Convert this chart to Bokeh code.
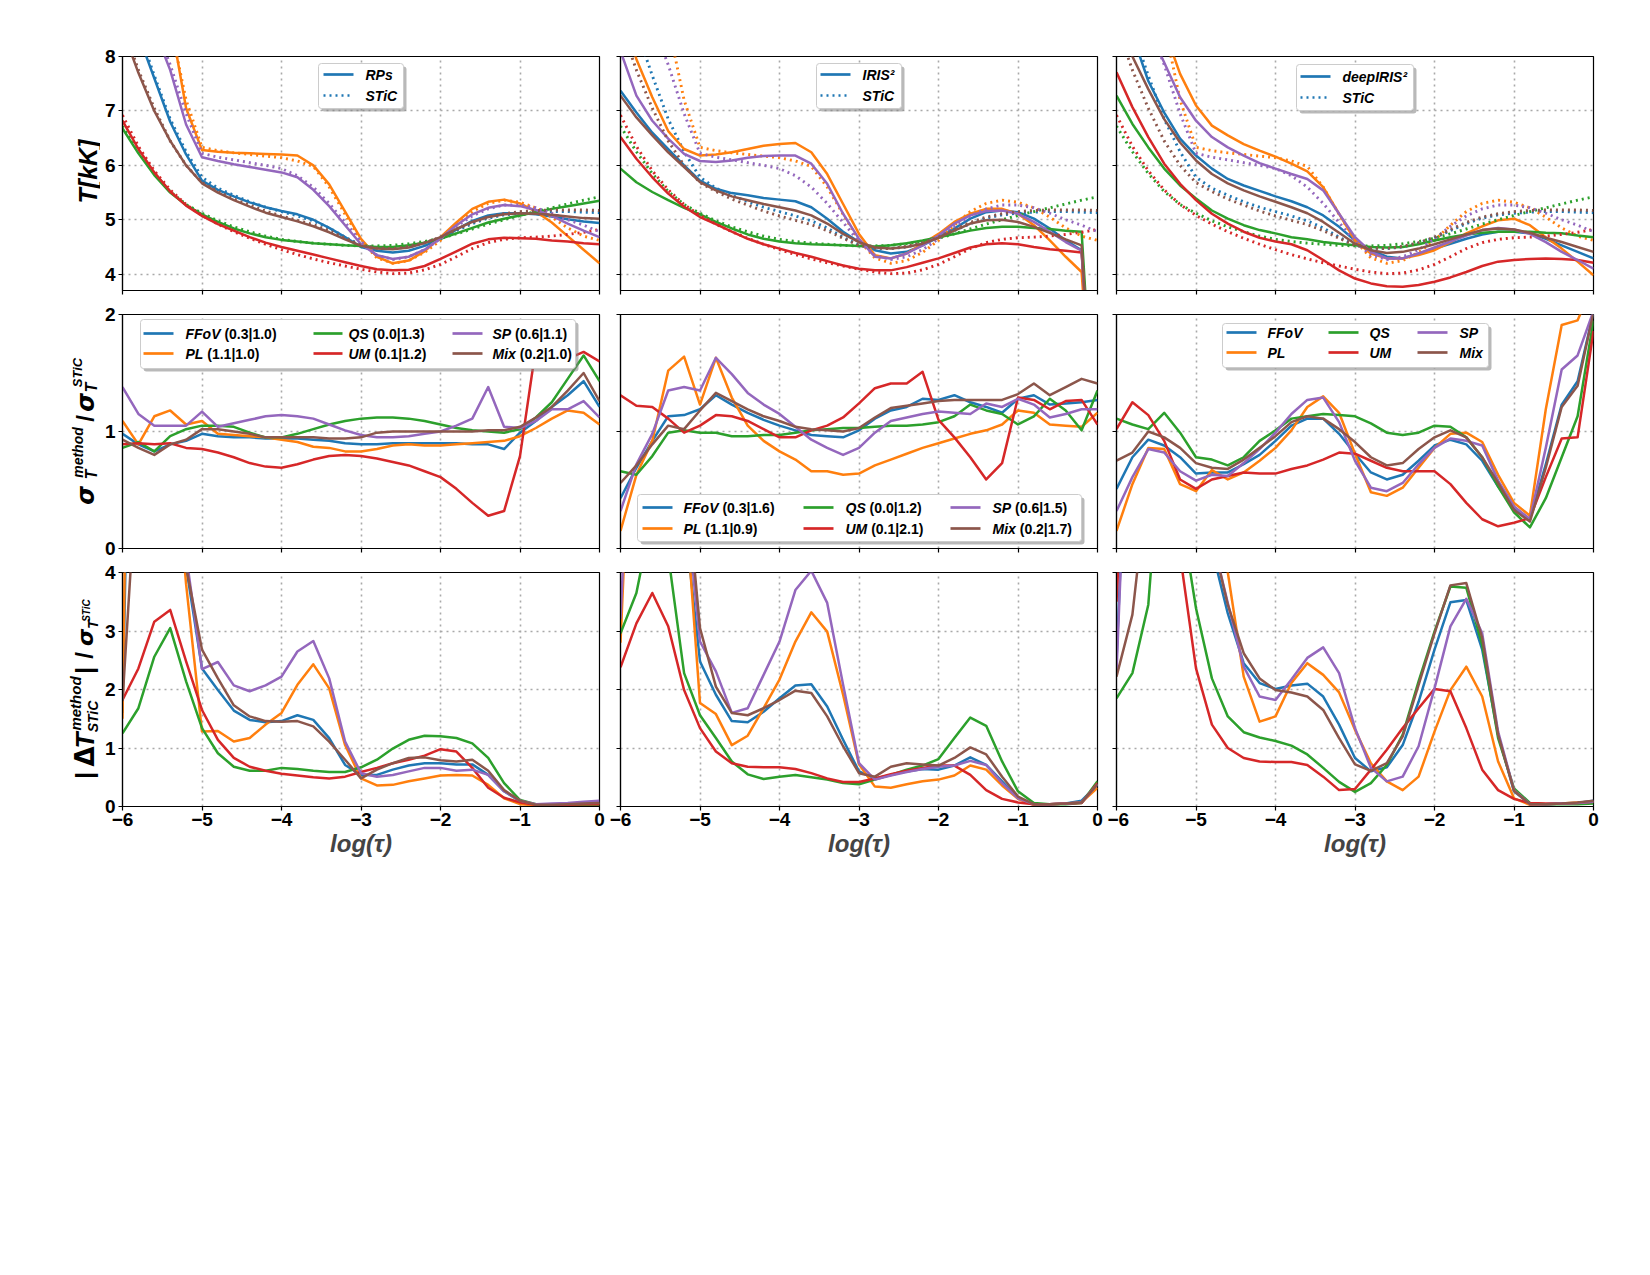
import math
from bokeh.plotting import figure
from bokeh.models import Range1d, FixedTicker, CustomJSTickFormatter, BoxAnnotation
from bokeh.layouts import row, column
from bokeh.embed import file_html
from bokeh.resources import INLINE
from bokeh.core.properties import value

# ---------------- data ----------------
log_tau = [-6.0, -5.8, -5.6, -5.4, -5.2, -5.0, -4.8, -4.6, -4.4, -4.2, -4.0, -3.8, -3.6, -3.4, -3.2,
           -3.0, -2.8, -2.6, -2.4, -2.2, -2.0, -1.8, -1.6, -1.4, -1.2, -1.0, -0.8, -0.6, -0.4, -0.2, 0.0]

methods = ["FFoV", "PL", "QS", "UM", "SP", "Mix"]

# Row 1: temperature [kK]; STiC reference (dotted)
stic_ffov = [9.4, 8.5, 7.65, 6.85, 6.25, 5.78, 5.58, 5.45, 5.33, 5.23, 5.15, 5.07, 4.98, 4.85, 4.68, 4.53, 4.48, 4.47, 4.50, 4.57, 4.67, 4.80, 4.93, 5.03, 5.09, 5.12, 5.14, 5.15, 5.15, 5.14, 5.13]
stic_pl = [11.5, 10.3, 9.2, 8.6, 7.2, 6.33, 6.27, 6.23, 6.2, 6.17, 6.14, 6.08, 5.98, 5.6, 5.1, 4.62, 4.3, 4.2, 4.25, 4.4, 4.62, 4.9, 5.15, 5.3, 5.36, 5.32, 5.22, 5.05, 4.85, 4.7, 4.62]
stic_qs = [6.72, 6.25, 5.85, 5.52, 5.28, 5.12, 4.98, 4.87, 4.78, 4.70, 4.64, 4.60, 4.57, 4.55, 4.53, 4.52, 4.52, 4.53, 4.56, 4.60, 4.66, 4.74, 4.83, 4.92, 5.00, 5.08, 5.15, 5.22, 5.29, 5.36, 5.42]
stic_um = [6.92, 6.35, 5.9, 5.55, 5.28, 5.08, 4.92, 4.78, 4.66, 4.55, 4.45, 4.36, 4.28, 4.21, 4.15, 4.09, 4.04, 4.01, 4.02, 4.08, 4.18, 4.32, 4.47, 4.58, 4.64, 4.67, 4.68, 4.70, 4.73, 4.77, 4.82]
stic_sp = [10.5, 9.5, 8.6, 7.85, 6.95, 6.22, 6.15, 6.1, 6.05, 6.0, 5.94, 5.81, 5.6, 5.3, 4.95, 4.6, 4.35, 4.27, 4.32, 4.45, 4.65, 4.88, 5.07, 5.2, 5.27, 5.27, 5.22, 5.12, 5.0, 4.9, 4.78]
stic_mix = [8.6, 7.75, 7.05, 6.45, 6.0, 5.68, 5.52, 5.38, 5.27, 5.16, 5.07, 4.99, 4.91, 4.80, 4.66, 4.53, 4.48, 4.47, 4.51, 4.58, 4.68, 4.82, 4.95, 5.05, 5.11, 5.15, 5.17, 5.18, 5.18, 5.18, 5.17]

rps_ffov = [9.3, 8.4, 7.6, 6.8, 6.2, 5.72, 5.55, 5.43, 5.32, 5.23, 5.16, 5.1, 5.0, 4.85, 4.68, 4.5, 4.43, 4.4, 4.43, 4.52, 4.65, 4.82, 4.98, 5.08, 5.12, 5.12, 5.1, 5.06, 5.01, 4.97, 4.94]
rps_pl = [11.0, 10.0, 9.0, 8.7, 7.05, 6.28, 6.25, 6.23, 6.22, 6.21, 6.2, 6.18, 6.0, 5.65, 5.15, 4.65, 4.32, 4.2, 4.25, 4.42, 4.68, 4.95, 5.2, 5.33, 5.37, 5.3, 5.15, 4.95, 4.7, 4.45, 4.2]
rps_qs = [6.68, 6.22, 5.82, 5.5, 5.27, 5.1, 4.96, 4.84, 4.75, 4.68, 4.63, 4.6, 4.57, 4.55, 4.53, 4.52, 4.5, 4.5, 4.53, 4.58, 4.65, 4.75, 4.85, 4.95, 5.02, 5.08, 5.14, 5.2, 5.25, 5.3, 5.35]
rps_um = [6.82, 6.3, 5.87, 5.52, 5.26, 5.07, 4.92, 4.8, 4.68, 4.58, 4.5, 4.43, 4.36, 4.29, 4.22, 4.15, 4.09, 4.07, 4.08, 4.15, 4.28, 4.42, 4.56, 4.64, 4.67, 4.66, 4.65, 4.62, 4.6, 4.57, 4.55]
rps_sp = [10.5, 9.4, 8.5, 7.75, 6.75, 6.15, 6.08, 6.02, 5.97, 5.92, 5.87, 5.78, 5.55, 5.25, 4.9, 4.55, 4.35, 4.28, 4.32, 4.45, 4.66, 4.9, 5.1, 5.22, 5.27, 5.25, 5.18, 5.07, 4.93, 4.8, 4.68]
rps_mix = [8.5, 7.7, 7.0, 6.45, 6.0, 5.67, 5.5, 5.36, 5.24, 5.13, 5.05, 4.97, 4.88, 4.77, 4.64, 4.52, 4.47, 4.46, 4.49, 4.57, 4.68, 4.83, 4.96, 5.05, 5.1, 5.12, 5.11, 5.09, 5.06, 5.03, 5.02]

iris_ffov = [7.37, 6.97, 6.6, 6.3, 6.0, 5.72, 5.57, 5.49, 5.45, 5.4, 5.37, 5.34, 5.23, 5.02, 4.78, 4.59, 4.44, 4.38, 4.41, 4.53, 4.68, 4.84, 5.02, 5.14, 5.17, 5.14, 5.02, 4.84, 4.62, 4.44, 0.0]
iris_pl = [8.9, 7.95, 7.25, 6.63, 6.3, 6.18, 6.2, 6.24, 6.3, 6.36, 6.39, 6.41, 6.24, 5.84, 5.29, 4.74, 4.35, 4.29, 4.38, 4.56, 4.74, 4.96, 5.11, 5.2, 5.2, 5.11, 4.9, 4.62, 4.32, 4.04, 0.0]
iris_qs = [5.94, 5.69, 5.51, 5.36, 5.22, 5.1, 4.96, 4.84, 4.73, 4.65, 4.6, 4.57, 4.55, 4.54, 4.53, 4.52, 4.51, 4.53, 4.57, 4.62, 4.68, 4.74, 4.8, 4.85, 4.87, 4.87, 4.85, 4.83, 4.8, 4.78, 0.0]
iris_um = [6.52, 6.12, 5.78, 5.48, 5.24, 5.05, 4.92, 4.78, 4.65, 4.55, 4.47, 4.39, 4.32, 4.24, 4.16, 4.1, 4.07, 4.07, 4.13, 4.21, 4.29, 4.39, 4.49, 4.55, 4.57, 4.55, 4.5, 4.46, 4.43, 4.4, 0.0]
iris_sp = [8.1, 7.28, 6.82, 6.49, 6.21, 6.08, 6.06, 6.09, 6.14, 6.17, 6.18, 6.18, 6.03, 5.66, 5.11, 4.65, 4.32, 4.29, 4.38, 4.53, 4.71, 4.93, 5.08, 5.16, 5.17, 5.11, 4.96, 4.78, 4.59, 4.43, 0.0]
iris_mix = [7.28, 6.88, 6.55, 6.24, 5.97, 5.69, 5.54, 5.43, 5.36, 5.29, 5.23, 5.17, 5.08, 4.93, 4.74, 4.59, 4.49, 4.47, 4.5, 4.56, 4.67, 4.8, 4.93, 4.99, 5.0, 4.96, 4.87, 4.76, 4.64, 4.53, 0.0]

deep_ffov = [9.2, 8.4, 7.55, 6.97, 6.49, 6.18, 5.94, 5.75, 5.63, 5.53, 5.43, 5.34, 5.23, 5.08, 4.87, 4.62, 4.44, 4.32, 4.29, 4.38, 4.47, 4.56, 4.65, 4.73, 4.78, 4.78, 4.75, 4.65, 4.53, 4.41, 4.29]
deep_pl = [11.0, 10.2, 9.3, 8.5, 7.68, 7.1, 6.73, 6.55, 6.39, 6.27, 6.16, 6.03, 5.89, 5.6, 5.11, 4.62, 4.38, 4.29, 4.29, 4.35, 4.44, 4.59, 4.75, 4.88, 4.99, 5.02, 4.9, 4.68, 4.47, 4.23, 3.98]
deep_qs = [7.28, 6.76, 6.33, 5.94, 5.63, 5.39, 5.17, 5.02, 4.9, 4.81, 4.75, 4.68, 4.64, 4.59, 4.56, 4.53, 4.5, 4.49, 4.5, 4.55, 4.62, 4.68, 4.73, 4.76, 4.78, 4.78, 4.78, 4.76, 4.75, 4.71, 4.68]
deep_um = [7.71, 7.07, 6.52, 6.03, 5.66, 5.36, 5.11, 4.93, 4.78, 4.67, 4.6, 4.55, 4.44, 4.26, 4.07, 3.92, 3.83, 3.78, 3.77, 3.8, 3.86, 3.94, 4.04, 4.15, 4.23, 4.26, 4.28, 4.29, 4.28, 4.26, 4.21]
deep_sp = [10.0, 9.2, 8.5, 7.89, 7.25, 6.82, 6.52, 6.33, 6.18, 6.04, 5.94, 5.84, 5.75, 5.54, 5.11, 4.68, 4.41, 4.29, 4.29, 4.38, 4.49, 4.6, 4.71, 4.81, 4.85, 4.82, 4.74, 4.59, 4.41, 4.26, 4.1]
deep_mix = [8.7, 8.0, 7.4, 6.85, 6.42, 6.09, 5.84, 5.67, 5.54, 5.43, 5.33, 5.23, 5.12, 4.96, 4.76, 4.56, 4.44, 4.39, 4.41, 4.47, 4.55, 4.64, 4.73, 4.81, 4.84, 4.82, 4.76, 4.67, 4.59, 4.5, 4.41]

# Row 2: sigma ratio
sr_rps_ffov = [0.98, 0.89, 0.83, 0.89, 0.92, 0.98, 0.96, 0.95, 0.95, 0.94, 0.94, 0.94, 0.93, 0.92, 0.9, 0.89, 0.89, 0.9, 0.9, 0.9, 0.9, 0.9, 0.89, 0.89, 0.85, 0.99, 1.09, 1.21, 1.31, 1.43, 1.21]
sr_rps_pl = [1.09, 0.89, 1.13, 1.18, 1.06, 1.09, 0.98, 0.97, 0.96, 0.95, 0.93, 0.91, 0.87, 0.86, 0.83, 0.83, 0.85, 0.88, 0.89, 0.88, 0.88, 0.89, 0.9, 0.91, 0.92, 0.96, 1.03, 1.11, 1.18, 1.16, 1.06]
sr_rps_qs = [0.86, 0.91, 0.83, 0.96, 1.02, 1.05, 1.05, 1.04, 0.99, 0.95, 0.95, 0.98, 1.02, 1.06, 1.09, 1.11, 1.12, 1.12, 1.11, 1.09, 1.06, 1.03, 1.01, 1.0, 0.99, 1.02, 1.12, 1.25, 1.45, 1.65, 1.43]
sr_rps_um = [0.89, 0.9, 0.89, 0.9, 0.86, 0.85, 0.82, 0.78, 0.73, 0.7, 0.69, 0.72, 0.76, 0.79, 0.8, 0.79, 0.77, 0.74, 0.71, 0.66, 0.61, 0.51, 0.39, 0.28, 0.32, 0.79, 1.72, 1.55, 1.62, 1.68, 1.6]
sr_rps_sp = [1.38, 1.15, 1.05, 1.05, 1.05, 1.17, 1.04, 1.07, 1.1, 1.13, 1.14, 1.13, 1.11, 1.06, 1.01, 0.97, 0.95, 0.95, 0.96, 0.98, 1.0, 1.05, 1.11, 1.38, 1.04, 1.03, 1.09, 1.19, 1.19, 1.26, 1.12]
sr_rps_mix = [0.93, 0.86, 0.8, 0.89, 0.93, 1.02, 1.02, 1.0, 0.98, 0.95, 0.95, 0.95, 0.95, 0.94, 0.94, 0.95, 0.99, 1.0, 1.0, 1.0, 1.0, 1.0, 1.0, 1.01, 1.01, 1.04, 1.12, 1.21, 1.35, 1.5, 1.26]

sr_iris_ffov = [0.43, 0.69, 0.92, 1.13, 1.14, 1.19, 1.31, 1.23, 1.16, 1.1, 1.05, 1.01, 0.97, 0.96, 0.95, 1.01, 1.11, 1.18, 1.21, 1.28, 1.27, 1.31, 1.25, 1.21, 1.16, 1.28, 1.31, 1.23, 1.24, 1.25, 1.27]
sr_iris_pl = [0.15, 0.63, 0.92, 1.52, 1.64, 1.23, 1.63, 1.29, 1.05, 0.92, 0.83, 0.76, 0.66, 0.66, 0.63, 0.64, 0.71, 0.76, 0.81, 0.86, 0.9, 0.94, 0.98, 1.01, 1.06, 1.18, 1.16, 1.06, 1.05, 1.04, 1.16]
sr_iris_qs = [0.66, 0.63, 0.79, 0.99, 1.01, 0.99, 0.99, 0.96, 0.96, 0.97, 0.97, 0.99, 1.01, 1.02, 1.03, 1.03, 1.04, 1.05, 1.05, 1.06, 1.08, 1.13, 1.23, 1.18, 1.15, 1.06, 1.13, 1.28, 1.18, 1.01, 1.35]
sr_iris_um = [1.31, 1.22, 1.21, 1.11, 0.99, 1.05, 1.14, 1.13, 1.09, 1.02, 0.95, 0.95, 1.01, 1.05, 1.12, 1.24, 1.37, 1.41, 1.41, 1.51, 1.1, 0.95, 0.78, 0.59, 0.73, 1.29, 1.27, 1.19, 1.26, 1.27, 1.06]
sr_iris_sp = [0.32, 0.72, 0.98, 1.35, 1.38, 1.35, 1.63, 1.49, 1.33, 1.23, 1.15, 1.04, 0.93, 0.86, 0.8, 0.86, 0.99, 1.09, 1.12, 1.15, 1.17, 1.16, 1.15, 1.24, 1.21, 1.28, 1.23, 1.12, 1.15, 1.19, 1.19]
sr_iris_mix = [0.56, 0.71, 0.89, 1.05, 1.02, 1.18, 1.33, 1.26, 1.19, 1.13, 1.09, 1.04, 1.02, 1.01, 1.0, 1.03, 1.12, 1.2, 1.22, 1.24, 1.26, 1.27, 1.27, 1.27, 1.27, 1.32, 1.41, 1.31, 1.38, 1.45, 1.41]

sr_deep_ffov = [0.51, 0.78, 0.93, 0.88, 0.78, 0.64, 0.65, 0.65, 0.72, 0.8, 0.92, 1.05, 1.11, 1.11, 0.98, 0.81, 0.65, 0.59, 0.63, 0.75, 0.88, 0.93, 0.89, 0.75, 0.53, 0.35, 0.25, 0.72, 1.23, 1.43, 2.02]
sr_deep_pl = [0.15, 0.55, 0.86, 0.85, 0.55, 0.49, 0.67, 0.59, 0.65, 0.75, 0.86, 1.01, 1.21, 1.3, 1.16, 0.81, 0.48, 0.45, 0.52, 0.69, 0.86, 0.98, 0.99, 0.91, 0.63, 0.39, 0.28, 1.19, 1.91, 1.95, 2.26]
sr_deep_qs = [1.11, 1.06, 1.02, 1.16, 0.99, 0.78, 0.76, 0.71, 0.78, 0.92, 1.01, 1.11, 1.13, 1.15, 1.14, 1.13, 1.07, 0.99, 0.97, 0.99, 1.05, 1.04, 0.95, 0.78, 0.53, 0.31, 0.18, 0.43, 0.78, 1.13, 1.95]
sr_deep_um = [1.02, 1.25, 1.14, 0.92, 0.59, 0.51, 0.59, 0.62, 0.65, 0.64, 0.64, 0.68, 0.71, 0.76, 0.82, 0.81, 0.75, 0.69, 0.66, 0.66, 0.66, 0.55, 0.39, 0.25, 0.19, 0.22, 0.26, 0.61, 0.94, 0.95, 1.86]
sr_deep_sp = [0.32, 0.61, 0.85, 0.82, 0.66, 0.58, 0.63, 0.62, 0.73, 0.85, 0.99, 1.15, 1.27, 1.29, 1.08, 0.75, 0.52, 0.49, 0.56, 0.72, 0.86, 0.94, 0.92, 0.88, 0.58, 0.36, 0.25, 0.86, 1.53, 1.65, 2.03]
sr_deep_mix = [0.75, 0.82, 1.0, 0.95, 0.86, 0.73, 0.69, 0.68, 0.76, 0.86, 0.96, 1.08, 1.13, 1.11, 1.02, 0.91, 0.78, 0.71, 0.73, 0.85, 0.95, 1.01, 0.95, 0.78, 0.56, 0.33, 0.23, 0.69, 1.21, 1.39, 2.02]

# Row 3: |dT| / sigma
dt_rps_ffov = [1.6, 15.0, 9.0, 7.0, 4.1, 2.36, 1.99, 1.64, 1.48, 1.44, 1.46, 1.56, 1.48, 1.17, 0.71, 0.54, 0.54, 0.63, 0.7, 0.74, 0.74, 0.72, 0.72, 0.54, 0.26, 0.09, 0.03, 0.03, 0.04, 0.05, 0.06]
dt_rps_pl = [1.5, 20.0, 9.0, 7.0, 3.8, 1.28, 1.29, 1.11, 1.17, 1.4, 1.6, 2.08, 2.43, 2.02, 1.05, 0.48, 0.36, 0.37, 0.43, 0.48, 0.53, 0.54, 0.53, 0.37, 0.14, 0.04, 0.02, 0.02, 0.03, 0.04, 0.05]
dt_rps_qs = [1.25, 1.68, 2.56, 3.05, 2.14, 1.34, 0.91, 0.68, 0.61, 0.61, 0.66, 0.64, 0.61, 0.59, 0.59, 0.67, 0.8, 0.99, 1.14, 1.21, 1.2, 1.17, 1.08, 0.83, 0.4, 0.11, 0.04, 0.03, 0.03, 0.03, 0.03]
dt_rps_um = [1.82, 2.36, 3.16, 3.36, 2.48, 1.65, 1.14, 0.83, 0.68, 0.61, 0.56, 0.53, 0.5, 0.48, 0.51, 0.59, 0.66, 0.74, 0.8, 0.87, 0.98, 0.94, 0.66, 0.32, 0.15, 0.07, 0.03, 0.03, 0.03, 0.04, 0.04]
dt_rps_sp = [4.5, 9.0, 9.0, 8.0, 4.3, 2.35, 2.47, 2.07, 1.97, 2.07, 2.22, 2.65, 2.83, 2.19, 1.11, 0.57, 0.51, 0.54, 0.6, 0.66, 0.66, 0.61, 0.63, 0.54, 0.26, 0.1, 0.04, 0.05, 0.06, 0.08, 0.1]
dt_rps_mix = [1.8, 6.2, 9.0, 7.5, 4.1, 2.68, 2.19, 1.73, 1.54, 1.46, 1.45, 1.46, 1.37, 1.11, 0.8, 0.48, 0.63, 0.74, 0.83, 0.84, 0.79, 0.77, 0.8, 0.61, 0.28, 0.1, 0.03, 0.03, 0.04, 0.05, 0.06]

dt_iris_ffov = [4.3, 9.0, 9.0, 8.0, 5.0, 2.48, 1.91, 1.46, 1.44, 1.62, 1.85, 2.07, 2.09, 1.71, 1.14, 0.6, 0.48, 0.54, 0.6, 0.64, 0.63, 0.7, 0.84, 0.71, 0.43, 0.14, 0.03, 0.04, 0.05, 0.1, 0.37]
dt_iris_pl = [2.8, 9.0, 9.0, 8.0, 5.5, 1.77, 1.58, 1.05, 1.21, 1.68, 2.17, 2.82, 3.32, 2.99, 1.91, 0.72, 0.34, 0.32, 0.38, 0.43, 0.46, 0.53, 0.7, 0.63, 0.36, 0.13, 0.03, 0.04, 0.05, 0.07, 0.32]
dt_iris_qs = [2.96, 3.65, 5.0, 4.3, 2.28, 1.56, 1.17, 0.77, 0.55, 0.47, 0.51, 0.54, 0.5, 0.46, 0.4, 0.38, 0.46, 0.54, 0.63, 0.7, 0.81, 1.17, 1.52, 1.38, 0.77, 0.26, 0.06, 0.04, 0.04, 0.06, 0.43]
dt_iris_um = [2.38, 3.13, 3.65, 3.08, 1.99, 1.34, 0.94, 0.74, 0.68, 0.67, 0.67, 0.64, 0.57, 0.48, 0.42, 0.42, 0.48, 0.55, 0.61, 0.66, 0.7, 0.7, 0.54, 0.28, 0.13, 0.07, 0.04, 0.04, 0.05, 0.06, 0.4]
dt_iris_sp = [3.2, 9.0, 9.0, 8.0, 5.5, 2.82, 2.31, 1.6, 1.68, 2.25, 2.82, 3.7, 4.03, 3.48, 2.08, 0.74, 0.46, 0.53, 0.59, 0.64, 0.68, 0.7, 0.78, 0.71, 0.4, 0.14, 0.04, 0.04, 0.05, 0.07, 0.38]
dt_iris_mix = [4.2, 9.0, 9.0, 8.0, 6.0, 3.05, 2.05, 1.6, 1.56, 1.68, 1.82, 1.98, 1.94, 1.54, 1.03, 0.57, 0.51, 0.68, 0.74, 0.72, 0.7, 0.83, 1.01, 0.89, 0.51, 0.17, 0.04, 0.04, 0.05, 0.07, 0.38]

dt_deep_ffov = [2.5, 9.0, 9.0, 9.0, 8.0, 5.5, 4.4, 3.3, 2.45, 2.11, 2.01, 2.07, 2.1, 1.88, 1.4, 0.83, 0.6, 0.67, 1.05, 1.79, 2.68, 3.49, 3.53, 2.68, 1.23, 0.26, 0.04, 0.04, 0.05, 0.06, 0.1]
dt_deep_pl = [4.5, 9.0, 9.0, 9.0, 8.0, 6.5, 5.0, 4.0, 2.22, 1.45, 1.54, 2.11, 2.45, 2.25, 1.95, 1.31, 0.74, 0.43, 0.28, 0.51, 1.28, 1.99, 2.39, 1.88, 0.77, 0.14, 0.03, 0.04, 0.05, 0.07, 0.08]
dt_deep_qs = [1.85, 2.28, 3.45, 7.0, 5.1, 3.39, 2.19, 1.54, 1.27, 1.18, 1.12, 1.04, 0.89, 0.66, 0.42, 0.25, 0.4, 0.71, 1.23, 2.14, 2.99, 3.76, 3.74, 2.76, 1.17, 0.31, 0.06, 0.04, 0.04, 0.04, 0.05]
dt_deep_um = [3.5, 9.0, 9.0, 8.0, 4.3, 2.36, 1.4, 1.0, 0.83, 0.77, 0.76, 0.76, 0.71, 0.51, 0.28, 0.3, 0.63, 0.97, 1.34, 1.68, 2.01, 1.97, 1.34, 0.63, 0.28, 0.13, 0.06, 0.05, 0.05, 0.06, 0.08]
dt_deep_sp = [2.3, 9.0, 9.0, 9.0, 8.0, 6.0, 4.6, 3.48, 2.39, 1.88, 1.82, 2.17, 2.54, 2.72, 2.28, 1.34, 0.66, 0.43, 0.51, 1.03, 2.02, 3.08, 3.55, 2.96, 1.28, 0.28, 0.04, 0.04, 0.05, 0.06, 0.08]
dt_deep_mix = [2.22, 3.28, 5.7, 6.5, 7.0, 6.0, 4.6, 3.45, 2.62, 2.19, 1.99, 1.95, 1.88, 1.65, 1.17, 0.72, 0.61, 0.74, 1.2, 2.08, 2.96, 3.78, 3.82, 2.88, 1.23, 0.27, 0.04, 0.04, 0.05, 0.07, 0.1]

panel_names = ["RPs", "IRIS\u00b2", "deepIRIS\u00b2"]
legend_stats_rps = ["(0.3|1.0)", "(1.1|1.0)", "(0.0|1.3)", "(0.1|1.2)", "(0.6|1.1)", "(0.2|1.0)"]
legend_stats_iris = ["(0.3|1.6)", "(1.1|0.9)", "(0.0|1.2)", "(0.1|2.1)", "(0.6|1.5)", "(0.2|1.7)"]

# ---------------- style ----------------
FONT = "Liberation Sans"
GREEK = "DejaVu Sans"
COLORS = ["#1f77b4", "#ff7f0e", "#2ca02c", "#d62728", "#9467bd", "#8c564b"]
FW, FH = 477, 234
LABEL_W = 100
BORDER_L = [22, 11, 9]
BORDER_T = [56, 12, 12]
BORDER_B = [12, 12, 60]
FRAME_TOP = [56, 314, 572]
YR = [(3.7, 8.0), (0.0, 2.0), (0.0, 4.0)]
YT = [[4, 5, 6, 7, 8], [0, 1, 2], [0, 1, 2, 3, 4]]
YG = [[4, 5, 6, 7], [1], [1, 2, 3]]
LW = 2.5
DOT = "2 4"
TICK_FS = "19px"

stic = [stic_ffov, stic_pl, stic_qs, stic_um, stic_sp, stic_mix]
temps = [[rps_ffov, rps_pl, rps_qs, rps_um, rps_sp, rps_mix],
         [iris_ffov, iris_pl, iris_qs, iris_um, iris_sp, iris_mix],
         [deep_ffov, deep_pl, deep_qs, deep_um, deep_sp, deep_mix]]
sigr = [[sr_rps_ffov, sr_rps_pl, sr_rps_qs, sr_rps_um, sr_rps_sp, sr_rps_mix],
        [sr_iris_ffov, sr_iris_pl, sr_iris_qs, sr_iris_um, sr_iris_sp, sr_iris_mix],
        [sr_deep_ffov, sr_deep_pl, sr_deep_qs, sr_deep_um, sr_deep_sp, sr_deep_mix]]
dts = [[dt_rps_ffov, dt_rps_pl, dt_rps_qs, dt_rps_um, dt_rps_sp, dt_rps_mix],
       [dt_iris_ffov, dt_iris_pl, dt_iris_qs, dt_iris_um, dt_iris_sp, dt_iris_mix],
       [dt_deep_ffov, dt_deep_pl, dt_deep_qs, dt_deep_um, dt_deep_sp, dt_deep_mix]]

# Arial-bold advance widths (per 1000 em) for placing mixed-style legend text
ADV = {"F": 611, "o": 611, "V": 667, "P": 667, "L": 611, "Q": 778, "S": 667, "U": 722,
       "M": 833, "i": 278, "x": 556, " ": 278}
LEG_FS = 14


def to_data(r, px, py):
    y0, y1 = YR[r]
    return -6 + px / FW * 6, y1 - py / FH * (y1 - y0)


def make_fig(r, c):
    p = figure(frame_width=FW, frame_height=FH, x_range=Range1d(-6, 0), y_range=Range1d(*YR[r]),
               output_backend="svg", toolbar_location=None,
               min_border_left=BORDER_L[c], min_border_right=10,
               min_border_top=BORDER_T[r], min_border_bottom=BORDER_B[r],
               background_fill_color="white", border_fill_color="white")
    p.outline_line_color = "black"
    p.outline_line_width = 1.2
    p.outline_line_alpha = 1.0
    for ax in (p.xaxis[0], p.yaxis[0]):
        ax.axis_line_color = "black"
        ax.axis_line_width = 1.2
        ax.major_tick_line_color = "black"
        ax.major_tick_line_width = 1.2
        ax.major_tick_in = 0
        ax.major_tick_out = 4
        ax.minor_tick_line_color = None
        ax.major_label_text_font = FONT
        ax.major_label_text_font_style = "bold"
        ax.major_label_text_font_size = TICK_FS
        ax.major_label_text_color = "black"
    p.xaxis[0].ticker = FixedTicker(ticks=[-6, -5, -4, -3, -2, -1, 0])
    p.yaxis[0].ticker = FixedTicker(ticks=YT[r])
    if r == 2:
        p.xaxis[0].formatter = CustomJSTickFormatter(
            code="return (tick < 0 ? '\u2212' : '') + Math.abs(tick).toFixed(0);")
        p.xaxis[0].major_label_standoff = 2
        p.xaxis[0].axis_label = "log(\u03c4)"
        p.xaxis[0].axis_label_text_font = FONT
        p.xaxis[0].axis_label_text_font_style = "bold italic"
        p.xaxis[0].axis_label_text_font_size = "24px"
        p.xaxis[0].axis_label_standoff = 1
    else:
        p.xaxis[0].formatter = CustomJSTickFormatter(code="return '';")
        p.xaxis[0].major_label_standoff = 0
    if c == 0:
        p.yaxis[0].formatter = CustomJSTickFormatter(code="return tick.toFixed(0);")
        p.yaxis[0].major_label_standoff = 3
    else:
        p.yaxis[0].formatter = CustomJSTickFormatter(code="return '';")
        p.yaxis[0].major_label_standoff = 0
    p.xgrid[0].ticker = FixedTicker(ticks=[-5, -4, -3, -2, -1])
    p.ygrid[0].ticker = FixedTicker(ticks=YG[r])
    for g in (p.xgrid[0], p.ygrid[0]):
        g.grid_line_color = "#a9a9a9"
        g.grid_line_dash = "2 4"
        g.grid_line_width = 1.6
    return p


def label_fig(r):
    # same vertical structure as the data panels of the row, so its frame
    # spans exactly the same page rows; y runs in page pixels (top -> bottom)
    top = FRAME_TOP[r]
    p = figure(frame_width=LABEL_W, frame_height=FH, x_range=Range1d(0, LABEL_W),
               y_range=Range1d(top + FH, top), output_backend="svg", toolbar_location=None,
               min_border_left=0, min_border_right=0,
               min_border_top=BORDER_T[r], min_border_bottom=BORDER_B[r],
               x_axis_location=None, y_axis_location=None,
               background_fill_color="white", border_fill_color="white")
    p.outline_line_color = None
    p.grid.visible = False
    return p


def legend_box(p, r, left, top, right, bottom):
    x0, y0 = to_data(r, left + 3, top + 3)
    x1, y1 = to_data(r, right + 3, bottom + 3)
    p.add_layout(BoxAnnotation(left=x0, right=x1, top=y0, bottom=y1, fill_color="#7f7f7f",
                               fill_alpha=0.55, line_color=None, border_radius=3))
    x0, y0 = to_data(r, left, top)
    x1, y1 = to_data(r, right, bottom)
    p.add_layout(BoxAnnotation(left=x0, right=x1, top=y0, bottom=y1, fill_color="white",
                               fill_alpha=1.0, line_color="#cccccc", line_alpha=1.0,
                               line_width=1, border_radius=3))


def legend_entry(p, r, lx0, lx1, ly, tx, color, name, dash="solid", stat=None):
    xa, ya = to_data(r, lx0, ly)
    xb, _ = to_data(r, lx1, ly)
    p.line([xa, xb], [ya, ya], line_color=color, line_width=LW + 0.2, line_dash=dash, level="overlay")
    xt, _ = to_data(r, tx, ly)
    p.text(x=[xt], y=[ya], text=[name], text_font=value(FONT), text_font_style="bold italic",
           text_font_size=f"{LEG_FS}px", text_baseline="middle", text_align="left",
           text_color="black", level="overlay")
    if stat is not None:
        w = sum(ADV.get(ch, 600) for ch in name + " ") * LEG_FS / 1000.0
        xs, _ = to_data(r, tx + w, ly)
        p.text(x=[xs], y=[ya], text=[stat], text_font=value(FONT), text_font_style="bold",
               text_font_size=f"{LEG_FS}px", text_baseline="middle", text_align="left",
               text_color="black", level="overlay")


def vtext(p, text, cx, cy, size, style="bold italic", font=FONT):
    # rotated (upward-reading) text piece centred at page position (cx, cy)
    p.text(x=[cx], y=[cy], text=[text], angle=math.pi / 2, text_font=value(font),
           text_font_style=style, text_font_size=f"{size}px", text_align="center",
           text_baseline="middle", text_color="black")


figs = [[make_fig(r, c) for c in range(3)] for r in range(3)]
labs = [label_fig(r) for r in range(3)]

# Row 1: temperatures
for c in range(3):
    p = figs[0][c]
    for k in range(6):
        p.line(log_tau, temps[c][k], line_color=COLORS[k], line_width=LW, line_join="round")
        p.line(log_tau, stic[k], line_color=COLORS[k], line_width=LW + 0.4, line_dash=DOT)

# Row 2 & 3
for c in range(3):
    for k in range(6):
        figs[1][c].line(log_tau, sigr[c][k], line_color=COLORS[k], line_width=LW, line_join="round")
        figs[2][c].line(log_tau, dts[c][k], line_color=COLORS[k], line_width=LW, line_join="round")

# Row 1 legends
leg1 = [(196, 7, 281, 52, 201, 231, 18, 39, 243),
        (196, 7, 281, 52, 200, 230, 18, 39, 242),
        (180, 8, 297, 54, 184, 214, 20, 41, 226)]
for c in range(3):
    L, T, R, B, lx0, lx1, ya, yb, tx = leg1[c]
    p = figs[0][c]
    legend_box(p, 0, L, T, R, B)
    legend_entry(p, 0, lx0, lx1, ya, tx, COLORS[0], panel_names[c])
    legend_entry(p, 0, lx0, lx1, yb, tx, COLORS[0], "STiC", dash=DOT)

# Row 2 legends (3 columns x 2 rows, column-major)
leg2 = [
    dict(box=(18, 5, 453, 54), rows=(19, 39), lines=((21, 51), (191, 220), (330, 360)), texts=(63, 226, 370), stats=legend_stats_rps),
    dict(box=(17, 180, 461, 227), rows=(193, 214), lines=((22, 52), (183, 213), (330, 360)), texts=(63, 225, 372), stats=legend_stats_iris),
    dict(box=(106, 9, 372, 53), rows=(18, 38), lines=((110, 140), (212, 242), (301, 331)), texts=(151, 253, 343), stats=None),
]
for c in range(3):
    spec = leg2[c]
    p = figs[1][c]
    legend_box(p, 1, *spec["box"])
    for k in range(6):
        col, rr = k // 2, k % 2
        lx0, lx1 = spec["lines"][col]
        stat = spec["stats"][k] if spec["stats"] else None
        legend_entry(p, 1, lx0, lx1, spec["rows"][rr], spec["texts"][col], COLORS[k], methods[k], stat=stat)

# ---------------- y-axis labels (rotated, composed pieces) ----------------
vtext(labs[0], "T[kK]", 87, 171, 25)

# row 2: sigma_T^method / sigma_T^STiC
L2 = labs[1]
vtext(L2, "\u03c3", 85, 495, 24, font=GREEK)
vtext(L2, "T", 91, 474, 16)
vtext(L2, "method", 77, 452, 14)
vtext(L2, "/", 85, 418, 24, "bold")
vtext(L2, "\u03c3", 85, 402, 24, font=GREEK)
vtext(L2, "T", 91, 387, 16)
vtext(L2, "STiC", 77, 372, 13)

# row 3: |Delta T_STiC^method| / sigma_{T^STiC}
L3 = labs[2]
vtext(L3, "|", 84, 775, 24, "bold")
vtext(L3, "\u0394", 84, 756, 26, "bold", font=GREEK)
vtext(L3, "T", 84, 740, 26)
vtext(L3, "STiC", 92, 716, 14)
vtext(L3, "method", 75, 703, 15)
vtext(L3, "|", 84, 670, 24, "bold")
vtext(L3, "/", 84, 655, 24, "bold")
vtext(L3, "\u03c3", 85, 637, 22, font=GREEK)
vtext(L3, "T", 92, 624, 15)
vtext(L3, "STiC", 86, 610, 10)

layout = column(*[row(labs[r], *figs[r]) for r in range(3)])
open("out.html", "w").write(file_html(layout, INLINE))
